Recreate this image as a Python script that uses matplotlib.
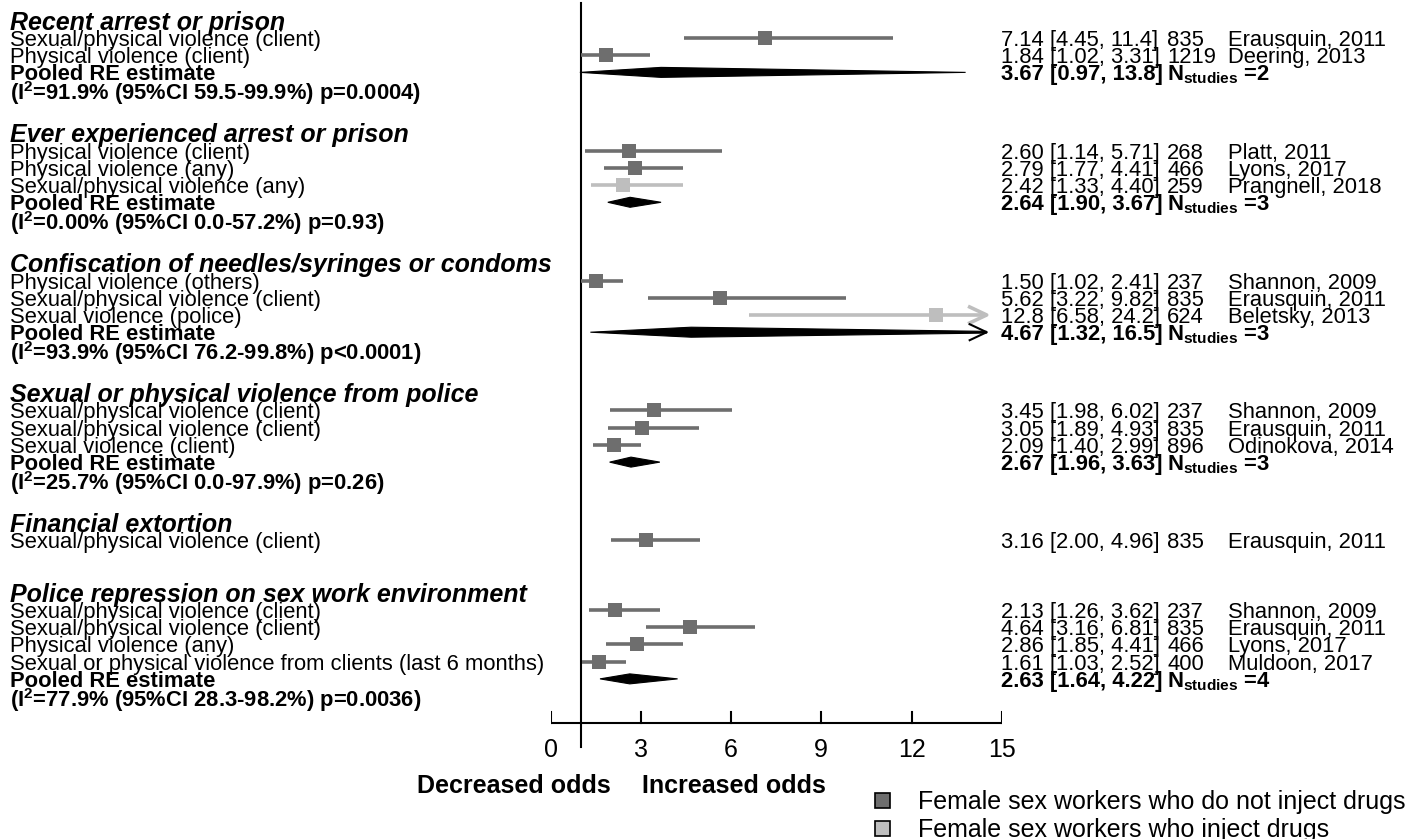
import matplotlib
matplotlib.use('Agg')
import matplotlib.pyplot as plt
from matplotlib.patches import Polygon, Rectangle
from matplotlib.transforms import blended_transform_factory

plt.rcParams['font.family'] = ['Liberation Sans', 'DejaVu Sans']
plt.rcParams['mathtext.fontset'] = 'custom'
plt.rcParams['mathtext.rm'] = 'Liberation Sans'
plt.rcParams['mathtext.bf'] = 'Liberation Sans:bold'
plt.rcParams['mathtext.it'] = 'Liberation Sans:italic'

# ---------------- data ----------------
group_titles = [
    "Recent arrest or prison",
    "Ever experienced arrest or prison",
    "Confiscation of needles/syringes or condoms",
    "Sexual or physical violence from police",
    "Financial extortion",
    "Police repression on sex work environment",
]
study_outcomes = [
    ["Sexual/physical violence (client)", "Physical violence (client)"],
    ["Physical violence (client)", "Physical violence (any)", "Sexual/physical violence (any)"],
    ["Physical violence (others)", "Sexual/physical violence (client)", "Sexual violence (police)"],
    ["Sexual/physical violence (client)", "Sexual/physical violence (client)", "Sexual violence (client)"],
    ["Sexual/physical violence (client)"],
    ["Sexual/physical violence (client)", "Sexual/physical violence (client)",
     "Physical violence (any)", "Sexual or physical violence from clients (last 6 months)"],
]
study_or = [[7.14, 1.84], [2.60, 2.79, 2.42], [1.50, 5.62, 12.8], [3.45, 3.05, 2.09], [3.16],
            [2.13, 4.64, 2.86, 1.61]]
study_lo = [[4.45, 1.02], [1.14, 1.77, 1.33], [1.02, 3.22, 6.58], [1.98, 1.89, 1.40], [2.00],
            [1.26, 3.16, 1.85, 1.03]]
study_hi = [[11.4, 3.31], [5.71, 4.41, 4.40], [2.41, 9.82, 24.2], [6.02, 4.93, 2.99], [4.96],
            [3.62, 6.81, 4.41, 2.52]]
study_n = [[835, 1219], [268, 466, 259], [237, 835, 624], [237, 835, 896], [835],
           [237, 835, 466, 400]]
study_author = [
    ["Erausquin, 2011", "Deering, 2013"],
    ["Platt, 2011", "Lyons, 2017", "Prangnell, 2018"],
    ["Shannon, 2009", "Erausquin, 2011", "Beletsky, 2013"],
    ["Shannon, 2009", "Erausquin, 2011", "Odinokova, 2014"],
    ["Erausquin, 2011"],
    ["Shannon, 2009", "Erausquin, 2011", "Lyons, 2017", "Muldoon, 2017"],
]
# 0 = do not inject drugs, 1 = inject drugs
study_pop = [[0, 0], [0, 0, 1], [0, 0, 1], [0, 0, 0], [0], [0, 0, 0, 0]]

pooled_or = [3.67, 2.64, 4.67, 2.67, None, 2.63]
pooled_lo = [0.97, 1.90, 1.32, 1.96, None, 1.64]
pooled_hi = [13.8, 3.67, 16.5, 3.63, None, 4.22]
pooled_k = [2, 3, 3, 3, None, 4]
i2_val = ["91.9", "0.00", "93.9", "25.7", None, "77.9"]
i2_lo = ["59.5", "0.0", "76.2", "0.0", None, "28.3"]
i2_hi = ["99.9", "57.2", "99.8", "97.9", None, "98.2"]
p_text = ["p=0.0004", "p=0.93", "p<0.0001", "p=0.26", None, "p=0.0036"]

x_ticks = [0, 3, 6, 9, 12, 15]
legend_labels = ["Female sex workers who do not inject drugs", "Female sex workers who inject drugs"]

# ---------------- style / layout ----------------
W, H = 1408, 839
PX0, PX15 = 550.7, 1001.7
PXU = (PX15 - PX0) / 15.0
Y0, LH = 20.0, 17.23
DARK = '#6E6E6E'
LIGHT = '#BEBEBE'
CLIP = 14.5
FS_ROW = 15.8
FS_BIG = 18

fig = plt.figure(figsize=(W / 100, H / 100), dpi=100)
ax = fig.add_axes([PX0 / W, 0, (PX15 - PX0) / W, 1])
ax.set_xlim(0, 15)
ax.set_ylim((H - Y0) / LH, -Y0 / LH)
ax.axis('off')
tr = blended_transform_factory(fig.transFigure, ax.transData)


def fx(px):
    return px / W


def fmt(v):
    return f"{v:.2f}" if v < 10 else f"{v:.1f}"


arrow_dx = 17 / PXU
arrow_dy = 8 / LH
hh = 5 / LH

X_LEFT, X_OR, X_N, X_AU = 10, 1001, 1167, 1228

cur = 0.0
last = 0.0
for g in range(len(group_titles)):
    ax.text(fx(X_LEFT), cur, group_titles[g], transform=tr, fontsize=FS_BIG,
            fontweight='bold', fontstyle='italic', va='center_baseline', ha='left')
    y = cur + 1.04
    for k in range(len(study_outcomes[g])):
        col = DARK if study_pop[g][k] == 0 else LIGHT
        lo, est, hi = study_lo[g][k], study_or[g][k], study_hi[g][k]
        ax.plot([lo, min(hi, CLIP)], [y, y], color=col, lw=2.6, solid_capstyle='butt', zorder=2)
        if hi > CLIP:
            ax.plot([CLIP - arrow_dx, CLIP, CLIP - arrow_dx], [y - arrow_dy, y, y + arrow_dy],
                    color=col, lw=2.6, zorder=2)
        ax.scatter([est], [y], marker='s', s=100, color=col, edgecolors=col, linewidths=0, zorder=3)
        ax.text(fx(X_LEFT), y, study_outcomes[g][k], transform=tr, fontsize=FS_ROW,
                va='center_baseline', ha='left')
        ax.text(fx(X_OR), y, f"{fmt(est)} [{fmt(lo)}, {fmt(hi)}]", transform=tr,
                fontsize=FS_ROW, va='center_baseline', ha='left')
        ax.text(fx(X_N), y, str(study_n[g][k]), transform=tr, fontsize=FS_ROW,
                va='center_baseline', ha='left')
        ax.text(fx(X_AU), y, study_author[g][k], transform=tr, fontsize=FS_ROW,
                va='center_baseline', ha='left')
        y += 1
    if pooled_or[g] is not None:
        lo, est, hi = pooled_lo[g], pooled_or[g], pooled_hi[g]
        if hi > CLIP:
            hc = hh * (hi - CLIP) / (hi - est)
            pts = [(lo, y), (est, y - hh), (CLIP, y - hc), (CLIP, y + hc), (est, y + hh)]
            ax.plot([CLIP - arrow_dx, CLIP, CLIP - arrow_dx], [y - arrow_dy, y, y + arrow_dy],
                    color='black', lw=1.5, zorder=2)
        else:
            pts = [(lo, y), (est, y - hh), (hi, y), (est, y + hh)]
        ax.add_patch(Polygon(pts, closed=True, fc='black', ec='black', lw=0.8, zorder=3))
        ax.text(fx(X_LEFT), y, "Pooled RE estimate", transform=tr, fontsize=FS_ROW,
                fontweight='bold', va='center_baseline', ha='left')
        ax.text(fx(X_OR), y, f"{fmt(est)} [{fmt(lo)}, {fmt(hi)}]", transform=tr,
                fontsize=FS_ROW, fontweight='bold', va='center_baseline', ha='left')
        ax.text(fx(X_N), y, r"$\mathbf{N}_{\mathbf{studies}}$ =" + str(pooled_k[g]), transform=tr,
                fontsize=FS_ROW, fontweight='bold', va='center_baseline', ha='left')
        y += 1
        ax.text(fx(X_LEFT), y,
                r"($\mathbf{I}^{\mathbf{2}}$=" + i2_val[g] + "% (95%CI " + i2_lo[g] + "-" + i2_hi[g]
                + "%) " + p_text[g] + ")",
                transform=tr, fontsize=FS_ROW, fontweight='bold', va='center_baseline', ha='left')
        last = y
        cur = last + 2.5
    else:
        last = y - 1
        cur = last + 3.0

# ---------------- axis ----------------
axis_y = last + 1.56
tick_len = 11 / LH
ax.plot([x_ticks[0], x_ticks[-1]], [axis_y, axis_y], color='black', lw=1.5, solid_capstyle='butt')
for t in x_ticks:
    ax.plot([t, t], [axis_y, axis_y - tick_len], color='black', lw=1.5)
    ax.text(t, axis_y + 1.4, str(t), ha='center', va='center_baseline', fontsize=FS_BIG)
ax.plot([1, 1], [-Y0 / LH + 0.2, axis_y + 1.4], color='black', lw=1.5, zorder=1)

ax.text(fx(611), axis_y + 3.5, "Decreased odds", transform=tr, ha='right',
        va='center_baseline', fontsize=FS_BIG, fontweight='bold')
ax.text(fx(642), axis_y + 3.5, "Increased odds", transform=tr, ha='left',
        va='center_baseline', fontsize=FS_BIG, fontweight='bold')

# ---------------- legend ----------------
leg_cols = [DARK, LIGHT]
leg_y = [800, 828]
for i in range(2):
    fig.add_artist(Rectangle(((882 - 7.5) / W, (H - leg_y[i] - 7.5) / H), 15 / W, 15 / H,
                             transform=fig.transFigure, fc=leg_cols[i], ec='black', lw=1.2))
    fig.text(918 / W, (H - leg_y[i]) / H, legend_labels[i], fontsize=FS_BIG,
             va='center_baseline', ha='left')

fig.savefig('out.png', dpi=100)
